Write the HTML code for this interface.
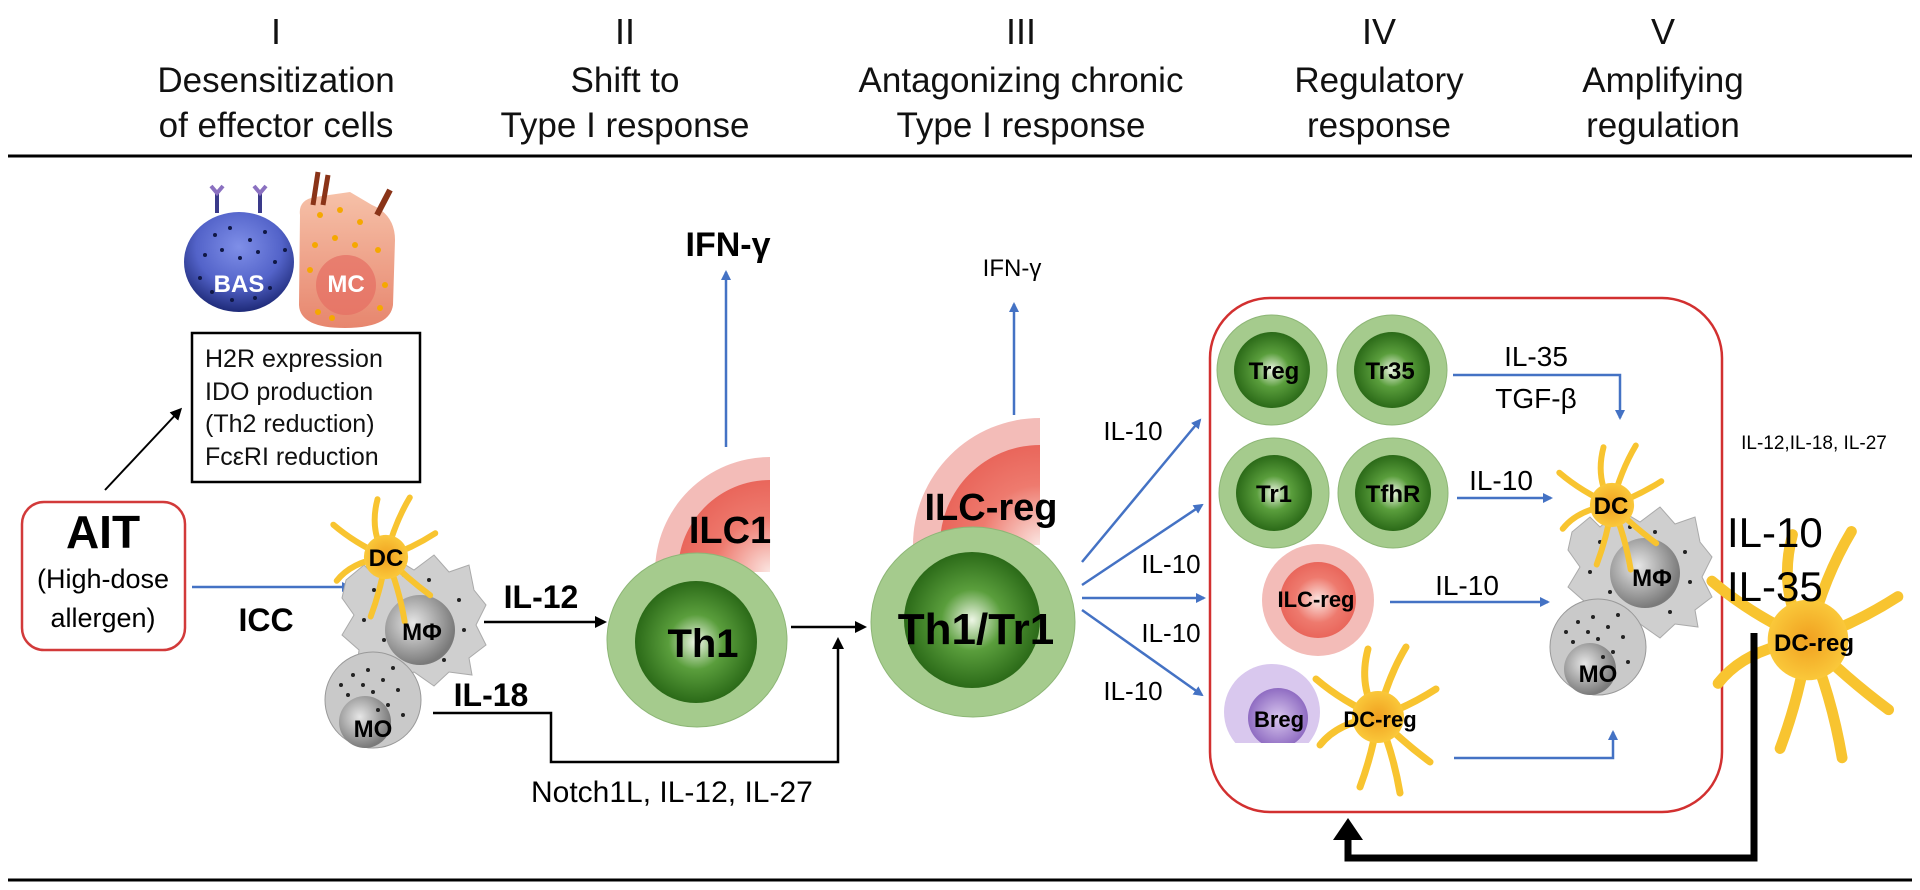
<!DOCTYPE html>
<html><head><meta charset="utf-8"><style>
html,body{margin:0;padding:0;background:#fff;}
svg{display:block;}
text{font-family:"Liberation Sans",sans-serif;}
</style></head><body>
<svg width="1920" height="890" viewBox="0 0 1920 890" xmlns="http://www.w3.org/2000/svg">
<defs>
<radialGradient id="gin" cx="50%" cy="50%" r="50%"><stop offset="0" stop-color="#eef6e6"/><stop offset="0.45" stop-color="#5a9e3c"/><stop offset="1" stop-color="#2b6a18"/></radialGradient>
<radialGradient id="rin" cx="50%" cy="50%" r="50%"><stop offset="0" stop-color="#fbe6e2"/><stop offset="0.6" stop-color="#ee7a6e"/><stop offset="1" stop-color="#e9665b"/></radialGradient>
<radialGradient id="pin" cx="50%" cy="50%" r="50%"><stop offset="0" stop-color="#d8c6ee"/><stop offset="1" stop-color="#8f6cc2"/></radialGradient>
<radialGradient id="gry" cx="40%" cy="40%" r="60%"><stop offset="0" stop-color="#e6e6e6"/><stop offset="1" stop-color="#7a7a7a"/></radialGradient>
<radialGradient id="bas" cx="50%" cy="35%" r="65%"><stop offset="0" stop-color="#7f8fe8"/><stop offset="0.6" stop-color="#5363c9"/><stop offset="1" stop-color="#1e2a78"/></radialGradient>
<linearGradient id="mc" x1="0" y1="0" x2="0" y2="1"><stop offset="0" stop-color="#f6c1a8"/><stop offset="1" stop-color="#e7866e"/></linearGradient>
<radialGradient id="yc" cx="50%" cy="50%" r="50%"><stop offset="0" stop-color="#f0a020"/><stop offset="1" stop-color="#fac83a"/></radialGradient>
<marker id="ab" markerWidth="10" markerHeight="10" refX="8" refY="5" orient="auto" markerUnits="userSpaceOnUse"><path d="M0,0 L10,5 L0,10 z" fill="#4472c4"/></marker>
<marker id="ak" markerWidth="12" markerHeight="12" refX="9" refY="6" orient="auto" markerUnits="userSpaceOnUse"><path d="M0,0 L12,6 L0,12 z" fill="#000"/></marker>
<g id="dc">
<g fill="none" stroke="#f8c430" stroke-width="7" stroke-linecap="round">
<path d="M0,0 Q-20,-30 -10,-68"/><path d="M0,0 Q10,-40 28,-70"/><path d="M0,0 Q-35,-15 -62,-38"/><path d="M0,0 Q-40,5 -58,28"/><path d="M0,0 Q30,-10 58,-28"/><path d="M0,0 Q25,25 52,45"/><path d="M0,0 Q-5,35 -18,70"/><path d="M0,0 Q15,35 22,76"/>
</g>
<circle r="26" fill="url(#yc)"/>
</g>
<g id="mph">
<path d="M-68,-40 L-50,-55 L-40,-45 L-20,-62 L0,-50 L20,-65 L35,-48 L55,-55 L60,-30 L72,-15 L62,5 L72,25 L55,38 L58,55 L35,52 L20,66 L0,52 L-20,62 L-35,48 L-58,55 L-55,30 L-72,15 L-60,-5 L-72,-22 z" fill="#cfcfcf" stroke="#aaa" stroke-width="1"/>
<g fill="#222"><circle cx="-40" cy="-30" r="2"/><circle cx="-30" cy="20" r="2"/><circle cx="45" cy="-20" r="2"/><circle cx="50" cy="10" r="2"/><circle cx="-10" cy="-45" r="2"/><circle cx="30" cy="40" r="2"/><circle cx="-50" cy="0" r="2"/><circle cx="15" cy="-40" r="2"/></g>
</g>
<g id="mo">
<circle r="48" fill="#c9c9c9" stroke="#999"/>
<circle cx="-8" cy="22" r="26" fill="url(#gry)"/>
<g fill="#222"><circle cx="-20" cy="-25" r="2"/><circle cx="-5" cy="-30" r="2"/><circle cx="10" cy="-20" r="2"/><circle cx="25" cy="-10" r="2"/><circle cx="-25" cy="-5" r="2"/><circle cx="0" cy="-8" r="2"/><circle cx="15" cy="5" r="2"/><circle cx="30" cy="15" r="2"/><circle cx="-10" cy="-15" r="2"/><circle cx="20" cy="-32" r="2"/><circle cx="5" cy="10" r="2"/><circle cx="-32" cy="-15" r="2"/></g>
</g>
<clipPath id="c1"><rect x="600" y="440" width="170" height="132"/></clipPath>
<clipPath id="c2"><rect x="880" y="400" width="160" height="145"/></clipPath>
<clipPath id="c3"><rect x="1220" y="660" width="100" height="83"/></clipPath>
</defs>

<!-- header -->
<g font-size="35" text-anchor="middle" fill="#111">
<text x="276" y="44" font-size="36">I</text>
<text x="276" y="92">Desensitization</text><text x="276" y="137">of effector cells</text>
<text x="625" y="44" font-size="36">II</text>
<text x="625" y="92">Shift to</text><text x="625" y="137">Type I response</text>
<text x="1021" y="44" font-size="36">III</text>
<text x="1021" y="92">Antagonizing chronic</text><text x="1021" y="137">Type I response</text>
<text x="1379" y="44" font-size="36">IV</text>
<text x="1379" y="92">Regulatory</text><text x="1379" y="137">response</text>
<text x="1663" y="44" font-size="36">V</text>
<text x="1663" y="92">Amplifying</text><text x="1663" y="137">regulation</text>
</g>
<line x1="8" y1="156" x2="1912" y2="156" stroke="#000" stroke-width="3"/>
<line x1="8" y1="880" x2="1912" y2="880" stroke="#000" stroke-width="3"/>

<!-- BAS & MC -->
<g stroke-width="4">
<line x1="217" y1="213" x2="217" y2="192" stroke="#3a3a8a"/><path d="M211,186 L217,193 L223,186" fill="none" stroke="#8a70c0"/>
<line x1="260" y1="213" x2="260" y2="192" stroke="#3a3a8a"/><path d="M254,186 L260,193 L266,186" fill="none" stroke="#8a70c0"/>
</g>
<ellipse cx="239" cy="262" rx="55" ry="50" fill="url(#bas)"/>
<g fill="#101845">
<circle cx="215" cy="235" r="2"/><circle cx="230" cy="228" r="2"/><circle cx="250" cy="240" r="2"/><circle cx="265" cy="232" r="2"/><circle cx="205" cy="255" r="2"/><circle cx="222" cy="250" r="2"/><circle cx="240" cy="258" r="2"/><circle cx="258" cy="252" r="2"/><circle cx="275" cy="262" r="2"/><circle cx="200" cy="278" r="2"/><circle cx="212" cy="292" r="2"/><circle cx="270" cy="288" r="2"/><circle cx="285" cy="250" r="2"/><circle cx="232" cy="300" r="2"/><circle cx="255" cy="298" r="2"/>
</g>
<text x="239" y="292" font-size="24" font-weight="bold" fill="#fff" text-anchor="middle">BAS</text>
<path d="M300,215 Q298,200 315,197 L350,192 L372,205 Q395,215 395,240 L393,305 Q390,328 345,328 Q300,328 299,305 z" fill="url(#mc)"/>
<circle cx="346" cy="285" r="30" fill="#e56e62" opacity="0.7"/>
<g fill="#f5a800"><circle cx="320" cy="215" r="3"/><circle cx="340" cy="210" r="3"/><circle cx="360" cy="222" r="3"/><circle cx="315" cy="245" r="3"/><circle cx="335" cy="238" r="3"/><circle cx="378" cy="250" r="3"/><circle cx="310" cy="270" r="3"/><circle cx="385" cy="285" r="3"/><circle cx="318" cy="312" r="3"/><circle cx="332" cy="318" r="3"/><circle cx="380" cy="308" r="3"/><circle cx="355" cy="245" r="3"/></g>
<path d="M313,205 L318,172 M323,205 L328,175" stroke="#8a3418" stroke-width="5"/>
<path d="M377,215 L390,190" stroke="#8a3418" stroke-width="6"/>
<text x="346" y="292" font-size="24" font-weight="bold" fill="#fff" text-anchor="middle">MC</text>

<!-- box -->
<rect x="192" y="333" width="228" height="149" fill="#fff" stroke="#000" stroke-width="2.5"/>
<g font-size="25" fill="#111">
<text x="205" y="367">H2R expression</text>
<text x="205" y="400">IDO production</text>
<text x="205" y="432">(Th2 reduction)</text>
<text x="205" y="465">FcεRI reduction</text>
</g>
<line x1="105" y1="490" x2="180" y2="410" stroke="#000" stroke-width="2" marker-end="url(#ak)"/>

<!-- AIT -->
<rect x="22" y="502" width="163" height="148" rx="22" fill="#fff" stroke="#d23a3a" stroke-width="2.5"/>
<text x="103" y="548" font-size="46" font-weight="bold" text-anchor="middle">AIT</text>
<text x="103" y="588" font-size="27" text-anchor="middle">(High-dose</text>
<text x="103" y="627" font-size="27" text-anchor="middle">allergen)</text>
<line x1="192" y1="587" x2="350" y2="587" stroke="#4472c4" stroke-width="2.5" marker-end="url(#ab)"/>
<text x="266" y="631" font-size="32" font-weight="bold" text-anchor="middle">ICC</text>

<!-- cluster left -->
<use href="#mph" transform="translate(414,620)"/>
<use href="#mo" transform="translate(373,700)"/>
<circle cx="420" cy="630" r="35" fill="url(#gry)"/>
<use href="#dc" transform="translate(386,557) scale(0.85)"/>
<text x="386" y="566" font-size="24" font-weight="bold" text-anchor="middle">DC</text>
<text x="422" y="640" font-size="24" font-weight="bold" text-anchor="middle">MΦ</text>
<text x="373" y="737" font-size="24" font-weight="bold" text-anchor="middle">MO</text>

<text x="541" y="608" font-size="32" font-weight="bold" text-anchor="middle">IL-12</text>
<line x1="484" y1="622" x2="604" y2="622" stroke="#000" stroke-width="2.5" marker-end="url(#ak)"/>
<text x="491" y="706" font-size="32" font-weight="bold" text-anchor="middle">IL-18</text>
<polyline points="433,713 551,713 551,762 838,762 838,640" fill="none" stroke="#000" stroke-width="2.5" marker-end="url(#ak)"/>
<text x="531" y="802" font-size="30">Notch1L, IL-12, IL-27</text>

<!-- ILC1 / Th1 -->
<g clip-path="url(#c1)">
<circle cx="770" cy="572" r="115" fill="#f3bcb8"/>
<circle cx="770" cy="572" r="92" fill="url(#rin)"/>
</g>
<text x="730" y="543" font-size="38" font-weight="bold" text-anchor="middle">ILC1</text>
<ellipse cx="697" cy="640" rx="90" ry="87" fill="#a5cb8d" stroke="#8db676"/>
<circle cx="696" cy="642" r="61" fill="url(#gin)"/>
<text x="703" y="657" font-size="40" font-weight="bold" text-anchor="middle">Th1</text>
<line x1="726" y1="447" x2="726" y2="272" stroke="#4472c4" stroke-width="2.5" marker-end="url(#ab)"/>
<text x="728" y="256" font-size="34" font-weight="bold" text-anchor="middle">IFN-γ</text>
<line x1="791" y1="627" x2="864" y2="627" stroke="#000" stroke-width="2.5" marker-end="url(#ak)"/>

<!-- ILC-reg / Th1/Tr1 -->
<g clip-path="url(#c2)">
<circle cx="1040" cy="545" r="127" fill="#f3bcb8"/>
<circle cx="1040" cy="545" r="100" fill="url(#rin)"/>
</g>
<ellipse cx="973" cy="622" rx="102" ry="95" fill="#a5cb8d" stroke="#8db676"/>
<circle cx="972" cy="620" r="68" fill="url(#gin)"/>
<text x="991" y="520" font-size="38" font-weight="bold" text-anchor="middle">ILC-reg</text>
<text x="976" y="644" font-size="44" font-weight="bold" text-anchor="middle">Th1/Tr1</text>
<line x1="1014" y1="415" x2="1014" y2="304" stroke="#4472c4" stroke-width="2.5" marker-end="url(#ab)"/>
<text x="1012" y="276" font-size="24" text-anchor="middle">IFN-γ</text>

<g stroke="#4472c4" stroke-width="2.5" fill="none">
<line x1="1082" y1="562" x2="1200" y2="420" marker-end="url(#ab)"/>
<line x1="1082" y1="585" x2="1202" y2="505" marker-end="url(#ab)"/>
<line x1="1082" y1="598" x2="1204" y2="598" marker-end="url(#ab)"/>
<line x1="1082" y1="610" x2="1202" y2="695" marker-end="url(#ab)"/>
</g>
<g font-size="26" text-anchor="middle">
<text x="1133" y="440">IL-10</text>
<text x="1171" y="573">IL-10</text>
<text x="1171" y="642">IL-10</text>
<text x="1133" y="700">IL-10</text>
</g>

<!-- regulatory box -->
<rect x="1210" y="298" width="512" height="514" rx="60" fill="none" stroke="#d23030" stroke-width="2.5"/>
<g>
<circle cx="1272" cy="370" r="55" fill="#a5cb8d" stroke="#8db676"/><circle cx="1272" cy="370" r="38" fill="url(#gin)"/>
<circle cx="1392" cy="370" r="55" fill="#a5cb8d" stroke="#8db676"/><circle cx="1392" cy="370" r="38" fill="url(#gin)"/>
<circle cx="1274" cy="493" r="55" fill="#a5cb8d" stroke="#8db676"/><circle cx="1274" cy="493" r="38" fill="url(#gin)"/>
<circle cx="1393" cy="493" r="55" fill="#a5cb8d" stroke="#8db676"/><circle cx="1393" cy="493" r="38" fill="url(#gin)"/>
</g>
<g font-size="24" font-weight="bold" text-anchor="middle">
<text x="1274" y="379">Treg</text><text x="1390" y="379">Tr35</text>
<text x="1274" y="502">Tr1</text><text x="1393" y="502">TfhR</text>
</g>
<polyline points="1453,375 1620,375 1620,418" fill="none" stroke="#4472c4" stroke-width="2.5" marker-end="url(#ab)"/>
<text x="1536" y="366" font-size="28" text-anchor="middle">IL-35</text>
<text x="1536" y="408" font-size="28" text-anchor="middle">TGF-β</text>
<line x1="1457" y1="498" x2="1551" y2="498" stroke="#4472c4" stroke-width="2.5" marker-end="url(#ab)"/>
<text x="1501" y="490" font-size="28" text-anchor="middle">IL-10</text>

<circle cx="1318" cy="600" r="56" fill="#f3bcb8"/>
<circle cx="1318" cy="600" r="38" fill="url(#rin)"/>
<text x="1316" y="607" font-size="22" font-weight="bold" text-anchor="middle">ILC-reg</text>
<line x1="1390" y1="602" x2="1548" y2="602" stroke="#4472c4" stroke-width="2.5" marker-end="url(#ab)"/>
<text x="1467" y="595" font-size="28" text-anchor="middle">IL-10</text>

<g clip-path="url(#c3)">
<circle cx="1272" cy="712" r="48" fill="#d9c8ee"/>
<circle cx="1278" cy="718" r="30" fill="url(#pin)"/>
</g>
<use href="#dc" transform="translate(1378,717)"/>
<text x="1279" y="727" font-size="22" font-weight="bold" text-anchor="middle">Breg</text>
<text x="1380" y="727" font-size="22" font-weight="bold" text-anchor="middle">DC-reg</text>
<polyline points="1454,758 1613,758 1613,732" fill="none" stroke="#4472c4" stroke-width="2.5" marker-end="url(#ab)"/>

<!-- right cluster inside box -->
<use href="#mph" transform="translate(1640,572)"/>
<use href="#mo" transform="translate(1598,647)"/>
<circle cx="1645" cy="573" r="35" fill="url(#gry)"/>
<use href="#dc" transform="translate(1612,505) scale(0.85)"/>
<text x="1611" y="514" font-size="24" font-weight="bold" text-anchor="middle">DC</text>
<text x="1652" y="586" font-size="24" font-weight="bold" text-anchor="middle">MΦ</text>
<text x="1598" y="682" font-size="24" font-weight="bold" text-anchor="middle">MO</text>

<!-- outside -->
<text x="1814" y="449" font-size="19" text-anchor="middle">IL-12,IL-18, IL-27</text>
<use href="#dc" transform="translate(1808,640) scale(1.55)"/>
<text x="1727" y="547" font-size="42">IL-10</text>
<text x="1727" y="601" font-size="42">IL-35</text>
<text x="1814" y="651" font-size="24" font-weight="bold" text-anchor="middle">DC-reg</text>
<polyline points="1754,633 1754,858 1348,858 1348,838" fill="none" stroke="#000" stroke-width="7"/>
<path d="M1333,840 L1348,818 L1363,840 z" fill="#000"/>
</svg>
</body></html>
